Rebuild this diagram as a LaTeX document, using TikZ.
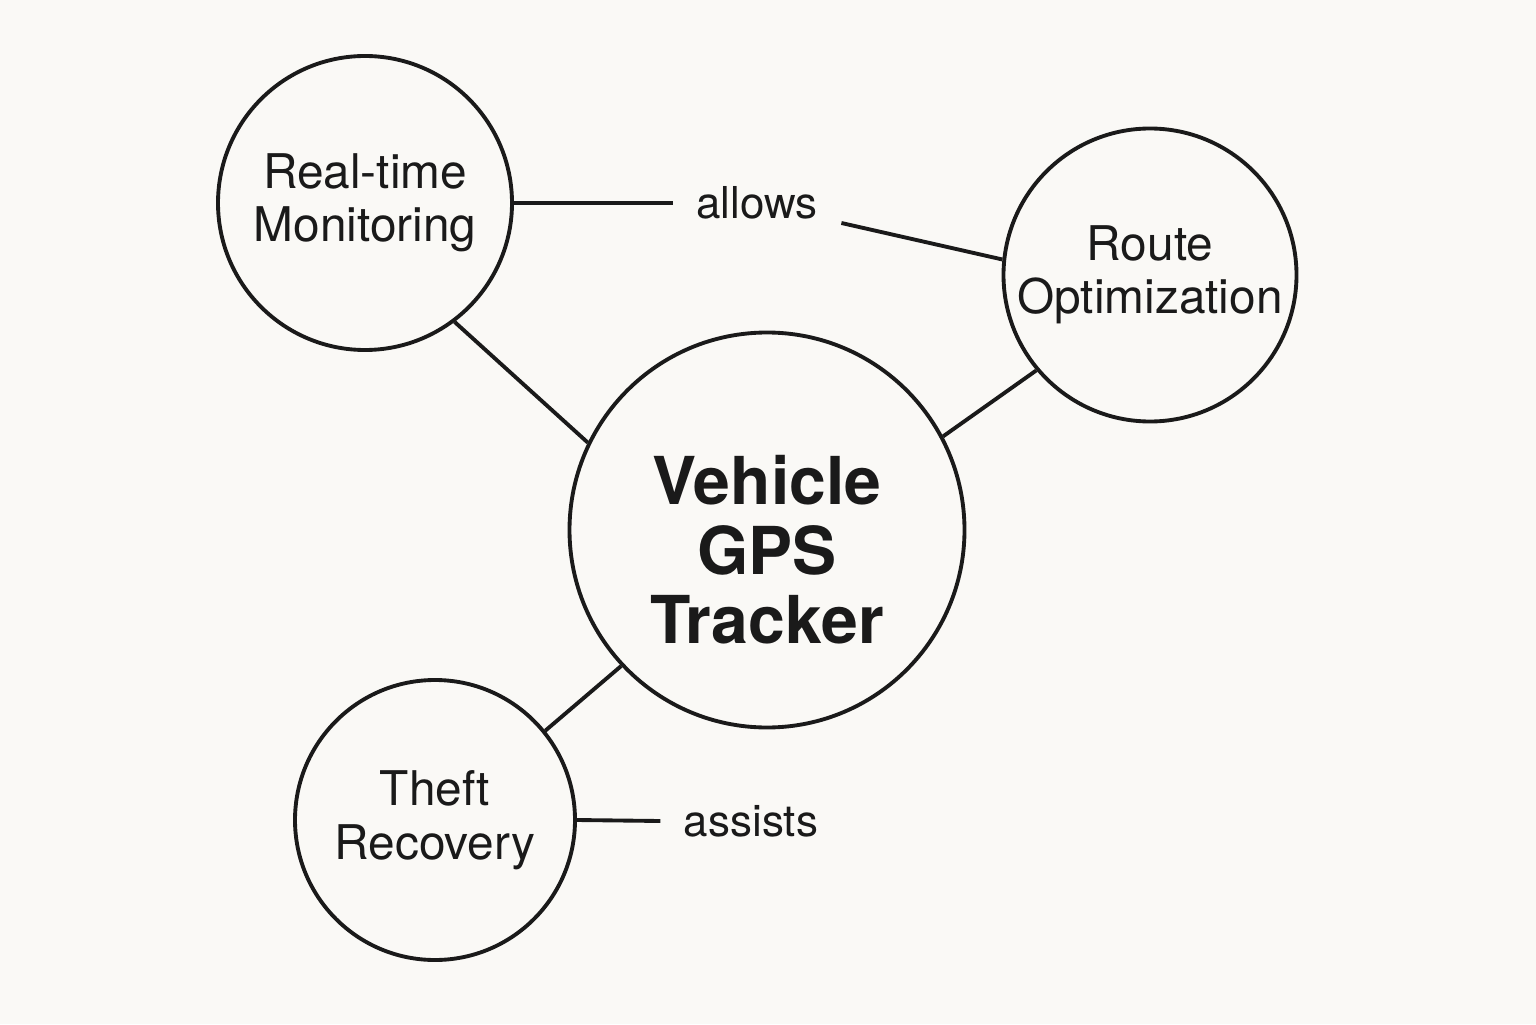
\documentclass[tikz,border=0pt]{standalone}
\usepackage{fontspec}
\setmainfont{TeX Gyre Heros}
\definecolor{paper}{HTML}{FAF9F6}
\definecolor{ink}{HTML}{1A1A1A}
\tikzset{
  topic/.style={draw=ink, circle, line width=1.1pt, text=ink, align=center,
    inner sep=0pt, font=\fontsize{13.6pt}{15.2pt}\selectfont},
  hubtext/.style={text=ink, align=center, yshift=-0.2cm,
    font=\fontsize{18.8pt}{19.8pt}\selectfont\bfseries},
  verb/.style={text=ink, inner sep=0.23cm, font=\fontsize{12.5pt}{14pt}\selectfont},
  link/.style={draw=ink, line width=1.1pt}
}
\begin{document}
\begin{tikzpicture}
            % Paper
            \fill [paper] (0.000000,0.000000) rectangle (15.360000,10.240000);%
            \useasboundingbox (0.000000,0.000000) rectangle (15.360000,10.240000);%

            % Marking the central tracker
            \node [topic, minimum size=3.95cm,
              label={[hubtext]center:Vehicle\\GPS\\Tracker}] (gps) at (7.670000,4.940000) {};%

            % Marking the three uses
            \node [topic, minimum size=2.94cm] (monitor) at (3.650000,8.210000) {Real-time\\Monitoring};%
            \node [topic, minimum size=2.93cm] (route) at (11.500000,7.490000) {Route\\Optimization};%
            \node [topic, minimum size=2.80cm] (theft) at (4.350000,2.040000) {Theft\\Recovery};%

            % Marking the verbs
            \node [verb] (allows) at (7.570000,8.210000) {allows};%
            \node [verb] (assists) at (7.510000,2.030000) {assists};%

            % Drawing the spokes
            \draw [link] (monitor.-53) -- (gps.154);%
            \draw [link] (gps.28) -- (route.220);%
            \draw [link] (gps.223) -- (theft.39);%

            % Drawing the labelled links
            \draw [link] (monitor.east) -- (allows.west);%
            \draw [link] ([yshift=-0.2cm]allows.east) -- (route.174);%
            \draw [link] (theft.east) -- (assists.west);%
\end{tikzpicture}
\end{document}
